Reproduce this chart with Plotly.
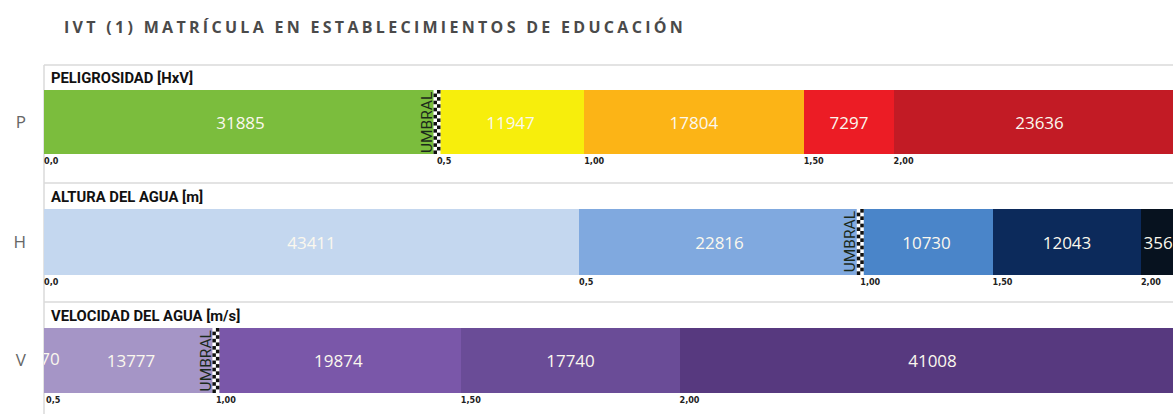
import plotly.graph_objects as go

# Enrolment counts per hazard class, one row per indicator
rows = ["P", "H", "V"]
headers = ["PELIGROSIDAD [HxV]", "ALTURA DEL AGUA [m]", "VELOCIDAD DEL AGUA [m/s]"]

p_values = [31885, 11947, 17804, 7297, 23636]
h_values = [43411, 22816, 10730, 12043, 3569]
v_values = [170, 13777, 19874, 17740, 41008]

p_colors = ["#7bbd3d", "#f7ee0c", "#fcb416", "#ec1c25", "#c21b25"]
h_colors = ["#c4d7ef", "#80a9df", "#4a85c9", "#0c2a5b", "#07121f"]
v_colors = ["#a595c6", "#a595c6", "#7a57a9", "#6a4c97", "#57397f"]

# Class break labels at the start of each segment
p_ticks = ["0,0", "0,5", "1,00", "1,50", "2,00"]
h_ticks = ["0,0", "0,5", "1,00", "1,50", "2,00"]
v_ticks = ["0,5", "1,00", "1,50", "2,00"]
v_tick_segments = [1, 2, 3, 4]  # segment index where each V label sits

# Index of the segment that starts at the threshold ("UMBRAL")
threshold_seg = [1, 2, 2]

values = [p_values, h_values, v_values]
colors = [p_colors, h_colors, v_colors]

X_MAX = 91600
W, H = 1173, 414
PLOT_L = 44
MIN_INSIDE = 2000  # segments narrower than this get their label from a text trace

# Vertical pixel bands for each bar
bands = [(90, 154), (209, 275), (328, 393)]

TEXT_FONT = dict(family="Open Sans", size=17, color="#fbf8ee")


def py(px):
    return 1 - px / H


def cumstarts(vals):
    out, s = [], 0
    for v in vals:
        out.append(s)
        s += v
    return out


fig = go.Figure()
layout = {}
shapes = []
annotations = []

for i, (name, vals, cols) in enumerate(zip(rows, values, colors)):
    ax = "" if i == 0 else str(i + 1)
    starts = cumstarts(vals)
    for v, s, c in zip(vals, starts, cols):
        narrow = v < MIN_INSIDE
        fig.add_trace(go.Bar(
            x=[v], y=[name], orientation="h",
            marker=dict(color=c, line=dict(width=0)),
            text=[None if narrow else str(v)], textposition="inside",
            insidetextanchor="middle", textangle=0, constraintext="none",
            insidetextfont=TEXT_FONT,
            xaxis="x" + ax, yaxis="y" + ax, showlegend=False, hoverinfo="skip",
        ))
        if narrow:
            # label centred on the thin segment, clipped by the plot area
            fig.add_trace(go.Scatter(
                x=[s + v / 2], y=[name], mode="text", text=[str(v)],
                textposition="middle center", textfont=TEXT_FONT, cliponaxis=True,
                xaxis="x" + ax, yaxis="y" + ax, showlegend=False, hoverinfo="skip",
            ))

    if i == 0:
        tickvals, ticktext = starts, p_ticks
    elif i == 1:
        tickvals, ticktext = starts, h_ticks
    else:
        tickvals = [starts[k] for k in v_tick_segments]
        ticktext = v_ticks

    top, bot = bands[i]
    layout["xaxis" + ax] = dict(
        range=[0, X_MAX], anchor="y" + ax, domain=[0, 1],
        tickvals=tickvals, ticktext=ticktext, ticks="",
        ticklabelposition="outside right",
        tickfont=dict(family="Liberation Sans Narrow, DejaVu Sans Condensed, sans-serif",
                      size=9, color="#222222", weight="bold"),
        showgrid=False, zeroline=False, showline=False, fixedrange=True,
    )
    layout["yaxis" + ax] = dict(
        domain=[py(bot), py(top)], anchor="x" + ax, range=[-0.5, 0.5],
        type="category", ticks="", ticklabelstandoff=17,
        tickfont=dict(family="Open Sans", size=17, color="#666666"),
        showgrid=False, zeroline=False, showline=False, fixedrange=True,
    )

    # Indicator header above each bar
    annotations.append(dict(
        text="<b>" + headers[i] + "</b>", xref="paper", yref="paper",
        x=(49 - PLOT_L) / (W - PLOT_L), y=py(top - 1), xanchor="left", yanchor="bottom",
        showarrow=False, font=dict(family="Roboto", size=14.8, color="#111111"),
    ))

    # Threshold marker: checkered strip plus rotated label
    tx = starts[threshold_seg[i]]
    xr, yr = "x" + ax, "y" + ax
    shapes.append(dict(type="rect", xref=xr, yref=yr, xsizemode="pixel", xanchor=tx,
                       x0=-3.5, x1=3.5, y0=-0.5, y1=0.5,
                       fillcolor="white", line=dict(width=0), layer="above"))
    n = 18
    for k in range(n):
        for c, (a, b) in enumerate([(-3.5, 0), (0, 3.5)]):
            if (k + c) % 2 == 0:
                shapes.append(dict(type="rect", xref=xr, yref=yr, xsizemode="pixel",
                                   xanchor=tx, x0=a, x1=b,
                                   y0=-0.5 + k / n, y1=-0.5 + (k + 1) / n,
                                   fillcolor="#111111", line=dict(width=0), layer="above"))
    annotations.append(dict(
        text="UMBRAL", xref=xr, yref=yr, x=tx, y=0, xshift=-10,
        textangle=-90, showarrow=False, xanchor="center", yanchor="middle",
        font=dict(family="Roboto", size=15.5, color="#1b2a1b"),
    ))

# Section rules and left border
for yline in (65, 183, 302):
    shapes.append(dict(type="line", xref="paper", yref="paper", x0=0, x1=1,
                       y0=py(yline), y1=py(yline),
                       line=dict(color="#dadada", width=1.5), layer="below"))
shapes.append(dict(type="line", xref="paper", yref="paper", x0=0, x1=0,
                   y0=py(65), y1=0, line=dict(color="#dadada", width=1.5), layer="below"))

# Title
annotations.append(dict(
    text='<span style="letter-spacing:3.3px"><b>IVT (1) MATRÍCULA EN ESTABLECIMIENTOS DE EDUCACIÓN</b></span>',
    xref="paper", yref="paper", x=(62 - PLOT_L) / (W - PLOT_L), y=py(27),
    xanchor="left", yanchor="middle", showarrow=False,
    font=dict(family="Open Sans", size=16, color="#4a4a4a"),
))

fig.update_layout(
    width=W, height=H, barmode="stack", bargap=0,
    margin=dict(l=PLOT_L, r=0, t=0, b=0),
    paper_bgcolor="white", plot_bgcolor="white",
    shapes=shapes, annotations=annotations, **layout,
)

fig.write_html("out.html", config={"displayModeBar": False})
